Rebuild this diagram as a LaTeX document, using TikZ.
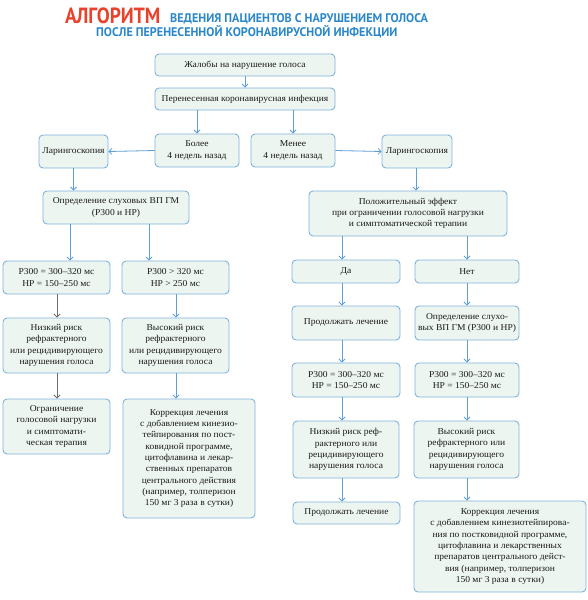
\documentclass[tikz,border=0pt]{standalone}
\usepackage{fontspec}
\setmainfont[FakeStretch=1.06]{Liberation Serif}
\newfontfamily\titlefont[FakeStretch=0.88]{PT Sans}
\newfontfamily\subfont[FakeStretch=0.97]{PT Sans}
\usetikzlibrary{arrows.meta,calc}
\definecolor{bordc}{HTML}{7FB2DC}
\definecolor{fillc}{HTML}{EDF5F1}
\definecolor{arrc}{HTML}{5E9FD6}
\definecolor{grayarr}{HTML}{6E6E6E}
\definecolor{titred}{HTML}{E8412C}
\definecolor{titblue}{HTML}{2A87C9}
\definecolor{txtc}{HTML}{1A1A1A}
\tikzset{
  box/.style={draw=bordc, fill=fillc, rounded corners=4pt, line width=0.9pt,
    align=center, inner sep=0pt, text=txtc, font=\fontsize{9}{11.3}\selectfont},
  arr/.style={draw=arrc, line width=0.8pt, -{Straight Barb[length=3pt,width=6pt]}},
  garr/.style={draw=grayarr, line width=0.8pt, -{Straight Barb[length=3pt,width=6pt]}},
  subt/.style={anchor=base west, inner sep=0pt, text=titblue, font=\subfont\bfseries\fontsize{12.5}{13}\selectfont},
}
\newcommand\bx[6]{\node[box, minimum width={(#4-#2)*1pt}, minimum height={(#5-#3)*1pt}] (#1) at ({(#2+#4)/2},{(#3+#5)/2}) {#6};}
\begin{document}
\begin{tikzpicture}[x=1pt,y=-1pt]
\useasboundingbox (0,0) rectangle (587,600);
% title
\node[anchor=base west, inner sep=0pt, text=titred, font=\titlefont\bfseries\fontsize{22}{22}\selectfont] (t1) at (65,23) {АЛГОРИТМ};
\node[subt] (t2) at (170,22) {ВЕДЕНИЯ ПАЦИЕНТОВ С НАРУШЕНИЕМ ГОЛОСА};
\node[subt] (t3) at (96,36.5) {ПОСЛЕ ПЕРЕНЕСЕННОЙ КОРОНАВИРУСНОЙ ИНФЕКЦИИ};
% boxes
\bx{zh}{155}{54}{335}{76}{Жалобы на нарушение голоса}
\bx{per}{155}{88}{335}{110}{Перенесенная коронавирусная инфекция}
\bx{bol}{155}{134}{239}{167}{Более\\4 недель назад}
\bx{men}{251}{134}{335}{167}{Менее\\4 недель назад}
\bx{larL}{39}{135}{108}{168}{Ларингоскопия}
\bx{larR}{382}{135}{452}{168}{Ларингоскопия}
% left branch
\bx{opr}{43}{191}{189}{224}{Определение слуховых ВП ГМ\\(Р300 и НР)}
\bx{pA}{3}{261}{110}{294}{Р300 = 300–320 мс\\НР = 150–250 мс}
\bx{pB}{122}{261}{229}{294}{Р300 > 320 мс\\НР > 250 мс}
\bx{lowA}{3}{318}{110}{373}{Низкий риск\\рефрактерного\\или рецидивирующего\\нарушения голоса}
\bx{highB}{122}{318}{229}{373}{Высокий риск\\рефрактерного\\или рецидивирующего\\нарушения голоса}
\bx{ogr}{3}{399}{110}{454}{Ограничение\\голосовой нагрузки\\и симптомати-\\ческая терапия}
\bx{korL}{123}{399}{255}{518}{Коррекция лечения\\с добавлением кинезио-\\тейпирования по пост-\\ковидной программе,\\цитофлавина и лекар-\\ственных препаратов\\центрального действия\\(например, толперизон\\150 мг 3 раза в сутки)}
% right branch
\bx{pol}{309}{191}{507}{236}{Положительный эффект\\при ограничении голосовой нагрузки\\и симптоматической терапии}
\bx{da}{292}{260}{400}{283}{Да}
\bx{net}{415}{260}{519}{283}{Нет}
\bx{prod}{292}{306}{400}{340}{Продолжать лечение}
\bx{opr2}{415}{306}{519}{340}{Определение слухо-\\вых ВП ГМ (Р300 и НР)}
\bx{pC}{292}{363}{400}{397}{Р300 = 300–320 мс\\НР = 150–250 мс}
\bx{pD}{415}{363}{519}{397}{Р300 = 300–320 мс\\НР = 150–250 мс}
\bx{lowC}{293}{421}{399}{478}{Низкий риск реф-\\рактерного или\\рецидивирующего\\нарушения голоса}
\bx{highD}{414}{421}{519}{478}{Высокий риск\\рефрактерного или\\рецидивирующего\\нарушения голоса}
\bx{prod2}{293}{502}{400}{524}{Продолжать лечение}
\bx{korR}{414}{501}{586}{592}{Коррекция лечения\\с добавлением кинезиотейпирова-\\ния по постковидной программе,\\цитофлавина и лекарственных\\препаратов центрального дейст-\\вия (например, толперизон\\150 мг 3 раза в сутки)}
% column coordinates
\coordinate (cA) at (70,0);
\coordinate (cB) at (149,0);
\coordinate (cA2) at (57,0);
\coordinate (cB2) at (176,0);
\coordinate (cD) at (342,0);
\coordinate (cN) at (467,0);
\coordinate (cL) at (416,0);
% connectors
\draw[arr] (zh) -- (per);
\draw[arr] (per.south -| bol.north) -- (bol.north);
\draw[arr] (per.south -| men.north) -- (men.north);
\draw[arr] (bol.west) -- (larL.east);
\draw[arr] (men.east) -- (larR.west);
\draw[arr] (larL.south) -- (larL.south |- opr.north);
\draw[arr] (opr.south -| cA) -- (pA.north -| cA);
\draw[arr] (opr.south -| cB) -- (pB.north -| cB);
\draw[garr] (pA.south -| cA2) -- (lowA.north -| cA2);
\draw[garr] (lowA.south -| cA2) -- (ogr.north -| cA2);
\draw[arr] (pB.south -| cB2) -- (highB.north -| cB2);
\draw[arr] (highB.south -| cB2) -- (korL.north -| cB2);
\draw[arr] (larR.south -| cL) -- (pol.north -| cL);
\draw[arr] (pol.south -| cD) -- (da.north -| cD);
\draw[arr] (pol.south -| cN) -- (net.north -| cN);
\draw[arr] (da.south -| cD) -- (prod.north -| cD);
\draw[arr] (prod.south -| cD) -- (pC.north -| cD);
\draw[arr] (pC.south -| cD) -- (lowC.north -| cD);
\draw[arr] (lowC.south -| cD) -- (prod2.north -| cD);
\draw[arr] (net.south -| cN) -- (opr2.north -| cN);
\draw[arr] (opr2.south -| cN) -- (pD.north -| cN);
\draw[arr] (pD.south -| cN) -- (highD.north -| cN);
\draw[arr] (highD.south -| cN) -- (korR.north -| cN);
\end{tikzpicture}
\end{document}
